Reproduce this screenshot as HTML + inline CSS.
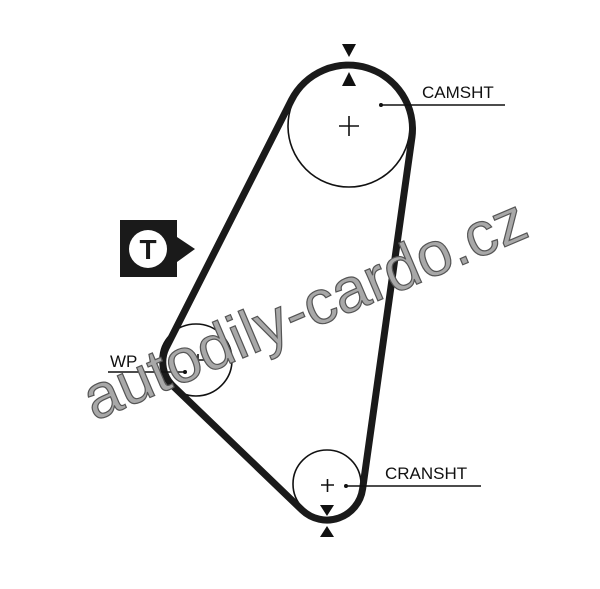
<!DOCTYPE html>
<html><head><meta charset="utf-8"><style>html,body{margin:0;padding:0;background:#fff}svg{display:block}</style></head>
<body>
<svg width="600" height="589" viewBox="0 0 600 589" xmlns="http://www.w3.org/2000/svg" font-family="Liberation Sans, sans-serif">
<rect width="600" height="589" fill="#fff"/>
<!-- pulleys -->
<circle cx="349" cy="126" r="61" fill="none" stroke="#111" stroke-width="1.6"/>
<circle cx="196" cy="360" r="36" fill="none" stroke="#111" stroke-width="1.6"/>
<circle cx="327" cy="484" r="34" fill="none" stroke="#111" stroke-width="1.6"/>
<!-- belt -->
<path d="M 166,348 L 291.5,100 A 64 64 0 0 1 412,137 L 362.6,489 A 36 36 0 0 1 302,510 L 173,386 A 33 33 0 0 1 166,348 Z" fill="none" stroke="#1a1a1a" stroke-width="7" stroke-linejoin="round"/>
<!-- crosses -->
<path d="M339,126 h20 M349,116 v20" stroke="#111" stroke-width="1.6"/>
<path d="M192,360 h12 M198,354 v12" stroke="#111" stroke-width="1.6"/>
<path d="M321,485 h13 M327.5,479 v13" stroke="#111" stroke-width="1.6"/>
<!-- labels -->
<circle cx="381" cy="105" r="2" fill="#111"/>
<line x1="381" y1="105" x2="505" y2="105" stroke="#111" stroke-width="1.5"/>
<text x="422" y="98" font-size="17" fill="#111">CAMSHT</text>
<circle cx="346" cy="486" r="2" fill="#111"/>
<line x1="346" y1="486" x2="481" y2="486" stroke="#111" stroke-width="1.5"/>
<text x="385" y="479" font-size="17" fill="#111">CRANSHT</text>
<circle cx="185" cy="372" r="2" fill="#111"/>
<line x1="108" y1="372" x2="185" y2="372" stroke="#111" stroke-width="1.5"/>
<text x="110" y="367" font-size="17" fill="#111">WP</text>
<!-- timing marks -->
<polygon points="342,44 356,44 349,57" fill="#111"/>
<polygon points="342,86 356,86 349,72" fill="#111"/>
<polygon points="320,505 334,505 327,516" fill="#111"/>
<polygon points="320,537 334,537 327,526" fill="#111"/>
<!-- T icon -->
<polygon points="120,220 177,220 177,237 195,249 177,262 177,277 120,277" fill="#1a1a1a"/>
<circle cx="148" cy="249" r="19" fill="#fff"/>
<text x="148" y="259" font-size="28" font-weight="bold" text-anchor="middle" fill="#1a1a1a">T</text>
<!-- watermark -->
<text x="305" y="330" font-size="62" text-anchor="middle" fill="#a8a8a8" stroke="#555" stroke-width="1.2" textLength="475" lengthAdjust="spacingAndGlyphs" transform="rotate(-23 305 310)">autodily-cardo.cz</text>
</svg>
</body></html>
